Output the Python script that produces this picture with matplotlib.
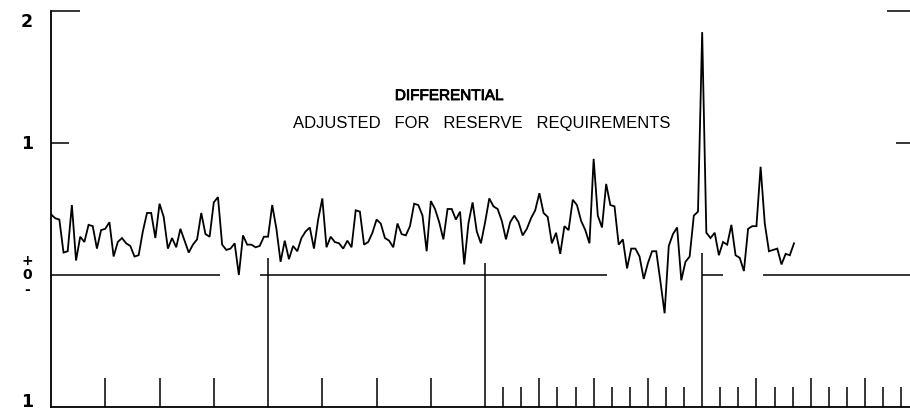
import numpy as np
import matplotlib
matplotlib.use("Agg")
import matplotlib.pyplot as plt
import matplotlib.patheffects as pe
from matplotlib.transforms import blended_transform_factory

# four-weekly differential, 13 periods per year
values = [
    0.46, 0.43, 0.42, 0.17, 0.18, 0.53, 0.11, 0.29, 0.25, 0.38,
    0.37, 0.20, 0.34, 0.35, 0.40, 0.14, 0.25, 0.28, 0.24, 0.22,
    0.14, 0.15, 0.33, 0.47, 0.47, 0.28, 0.54, 0.44, 0.20, 0.28,
    0.21, 0.35, 0.26, 0.17, 0.23, 0.27, 0.47, 0.31, 0.29, 0.55,
    0.59, 0.23, 0.19, 0.20, 0.24, 0.00, 0.30, 0.23, 0.23, 0.21,
    0.22, 0.29, 0.29, 0.53, 0.35, 0.10, 0.26, 0.12, 0.22,
    0.18, 0.28, 0.33, 0.36, 0.20, 0.42, 0.58, 0.21, 0.29, 0.25,
    0.24, 0.20, 0.26, 0.21, 0.49, 0.48, 0.23, 0.25, 0.32, 0.42,
    0.39, 0.28, 0.26, 0.21, 0.39, 0.31, 0.30, 0.37, 0.54,
    0.53, 0.45, 0.18, 0.56, 0.50, 0.40, 0.27, 0.50, 0.50, 0.42,
    0.48, 0.08, 0.39, 0.55, 0.33, 0.24, 0.40, 0.58, 0.52, 0.50,
    0.41, 0.27, 0.40, 0.45, 0.40, 0.30, 0.35, 0.43, 0.49, 0.62,
    0.47, 0.44, 0.24, 0.32, 0.16, 0.37, 0.34, 0.57, 0.53, 0.41,
    0.34, 0.24, 0.88, 0.45, 0.36, 0.69, 0.53, 0.52, 0.23, 0.27,
    0.05, 0.20, 0.20, 0.14, -0.03, 0.09, 0.18, 0.18,
    -0.05, -0.29, 0.22, 0.31, 0.36, -0.04, 0.10, 0.14, 0.45, 0.48,
    1.84, 0.32, 0.28, 0.32, 0.15, 0.25, 0.23, 0.38, 0.15, 0.13,
    0.03, 0.35, 0.37, 0.37, 0.82, 0.39, 0.18, 0.19, 0.20, 0.08,
    0.16, 0.15, 0.24,
]
PER_YEAR = 13

title = "DIFFERENTIAL"
subtitle = "ADJUSTED   FOR   RESERVE   REQUIREMENTS"
y_labels = ["2", "1", "1"]
y_label_pos = [1.92, 0.99, -0.965]
zero_labels = ["+", "0", "-"]
zero_label_pos = [0.115, 0.015, -0.105]

# axis furniture (in years / value units)
X_MAX = 15.83
zero_starts = [0.0, 3.85, 12.0, 13.12]
zero_ends = [3.12, 10.25, 12.39, X_MAX]
major_years = [4, 8, 12]
major_tops = [0.13, 0.09, 0.165]

fig = plt.figure(figsize=(9.10, 4.12), dpi=100)
ax = fig.add_axes([51 / 910, 5 / 412, 859 / 910, 396 / 412])
ax.set_xlim(0, X_MAX)
ax.set_ylim(-1, 2)

t = np.arange(len(values)) / PER_YEAR
ax.plot(t, values, color="black", lw=1.3, solid_joinstyle="miter")

lw = 1.1
ax.hlines([0] * len(zero_starts), zero_starts, zero_ends, color="black", lw=lw)
ax.vlines(major_years, -1, major_tops, color="black", lw=lw)

# bottom ticks: yearly before year 8, thirds of a year after
tall = [1, 2, 3, 5, 6, 7] + [y for y in range(9, 16) if y != 12]
short = [y + k / 3 for y in range(8, 16) for k in (1, 2) if y + k / 3 < X_MAX]
ax.vlines(tall, -1, -0.78, color="black", lw=lw)
ax.vlines(short, -1, -0.85, color="black", lw=lw)

# stubs at 2 and 1, both sides
ax.hlines(2, 0, 0.53, color="black", lw=lw, clip_on=False)
ax.hlines(1, 0, 0.33, color="black", lw=lw)
ax.hlines(2, 15.41, X_MAX, color="black", lw=lw, clip_on=False)
ax.hlines(1, 15.58, X_MAX, color="black", lw=lw)

for s in ["top", "right"]:
    ax.spines[s].set_visible(False)
for s in ["left", "bottom"]:
    ax.spines[s].set_linewidth(1.3)
ax.set_xticks([])
ax.set_yticks([])

font = "Liberation Sans"
tr = blended_transform_factory(fig.transFigure, ax.transData)
for lab, yv in zip(y_labels, y_label_pos):
    fig.text(21 / 910, yv, lab, transform=tr, ha="left", va="center",
             fontsize=12.5, family="DejaVu Sans", weight="bold")
for lab, yv in zip(zero_labels, zero_label_pos):
    fig.text(27.5 / 910, yv, lab, transform=tr, ha="center", va="center_baseline",
             fontsize=10, family="DejaVu Sans", weight="bold")

ttr = blended_transform_factory(ax.transAxes, ax.transData)
ax.text((449 - 51) / 859, 1.356, title, transform=ttr,
        ha="center", va="center", fontsize=11, family=font,
        path_effects=[pe.withStroke(linewidth=0.6, foreground="black")])
ax.text((482 - 51) / 859, 1.15, subtitle, transform=ttr,
        ha="center", va="center", fontsize=12, family=font)

fig.savefig("out.png", dpi=100)
